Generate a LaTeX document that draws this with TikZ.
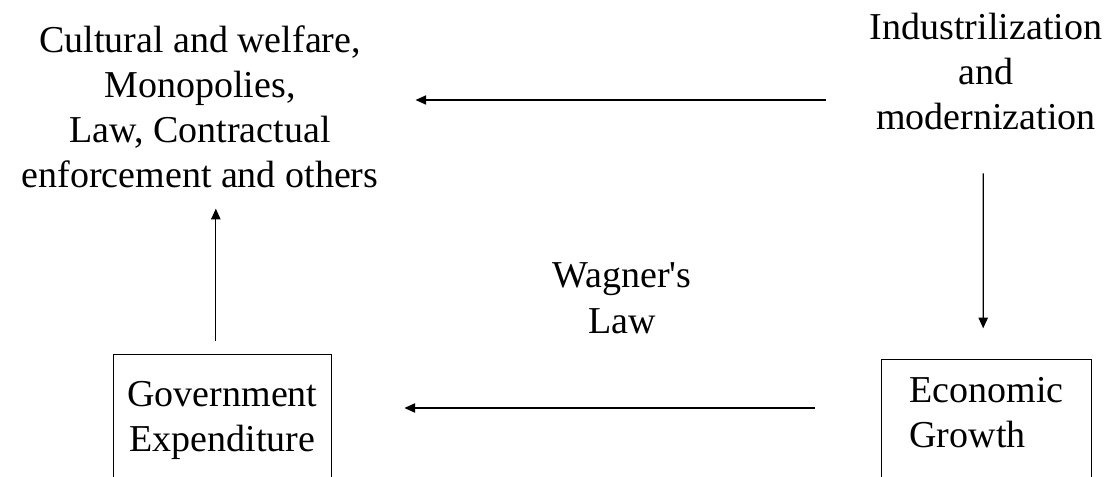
\documentclass[tikz,border=0pt]{standalone}
\usepackage{fontspec}
\setmainfont{Liberation Serif}
\definecolor{DiagBlack}{HTML}{000000}
\definecolor{DiagWhite}{HTML}{ffffff}
\usetikzlibrary{arrows.meta, positioning, calc}
\tikzset{
    % plain text labels, placed by the baseline of their last line
    label text/.style={
        align=center,
        inner sep=0pt,
        anchor=base,
        text=DiagBlack,
        font=\fontsize{28.5}{33.75}\selectfont
    },
    % boxes, open at the lower edge of the page
    component/.style={
        rectangle,
        draw=DiagBlack,
        fill=DiagWhite,
        line width=0.9pt,
        anchor=north,
        inner ysep=20pt,
        align=center,
        font=\fontsize{28.5}{33.75}\selectfont
    },
    arrow style/.style={
        ->,
        >={Triangle[length=8pt,width=7pt]},
        line width=0.95pt,
        DiagBlack
    }
}

\begin{document}
\begin{tikzpicture}[x=0.75pt, y=-0.75pt]
        \clip (0,0) rectangle (1110,477);

        % Text blocks
        \node[label text] (cultural) at (200,188) {Cultural and welfare,\\Monopolies,\\Law, Contractual\\enforcement and others};
        \node[label text] (industry) at (986,130) {Industrilization\\and\\modernization};
        \node[label text] (wagner) at (622,333) {Wagner\textquotesingle s\\Law};

        % Boxes
        \node[component, minimum width=164pt] (govexp) at (222.5,354) {Government\\Expenditure\rule[-40pt]{0pt}{0pt}};
        \node[component, minimum width=157pt, inner ysep=13.5pt, align=left] (growth) at (986.5,359) {Economic\\Growth\rule[-40pt]{0pt}{0pt}};

        % Arrow rows
        \coordinate (toprow) at (0,100);
        \coordinate (botrow) at (0,408);

        \draw[arrow style, shorten <=33pt, shorten >=27.75pt] (industry.west |- toprow) -- (cultural.east |- toprow);
        \draw[arrow style, shorten <=32pt, shorten >=23pt] ([xshift=-2pt]industry.south) -- ([xshift=-2.5pt]growth.north);
        \draw[arrow style, shorten <=50pt, shorten >=54pt] (growth.west |- botrow) -- (govexp.east |- botrow);
        \draw[arrow style, shorten <=10pt, shorten >=15pt] ([xshift=-5pt]govexp.north) -- ([xshift=-5pt]govexp.north |- cultural.south);
\end{tikzpicture}
\end{document}
